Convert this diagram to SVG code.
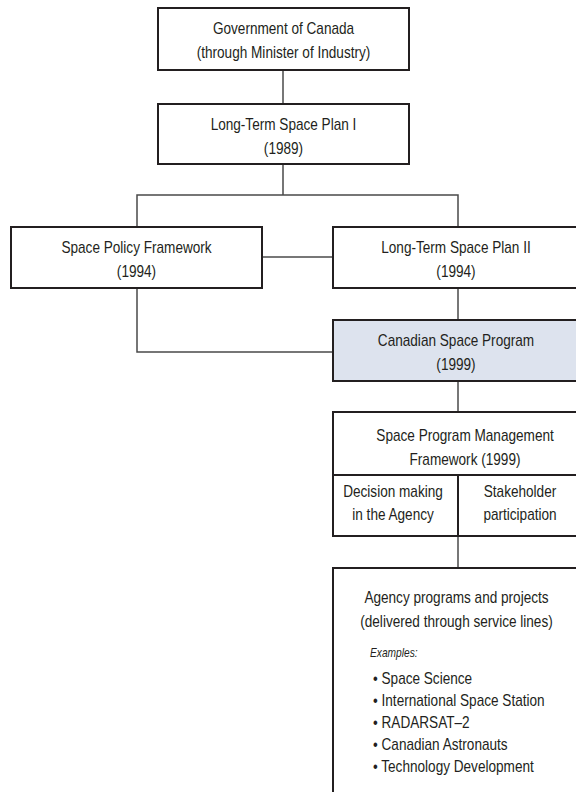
<svg xmlns="http://www.w3.org/2000/svg" width="576" height="792" viewBox="0 0 576 792">
<style>
  .box { fill: #ffffff; stroke: #231f20; stroke-width: 2; }
  .hl { fill: #dde3ee; }
  .conn { fill: none; stroke: #4a4a4a; stroke-width: 1.5; }
  text { font-family: "Liberation Sans", Arial, sans-serif; font-size: 16px; fill: #231f20;
         transform-box: fill-box; transform: scaleX(0.85); }
  .c { text-anchor: middle; transform-origin: center; }
  .l { text-anchor: start; transform-origin: left center; }
  .ex { font-size: 12px; font-style: italic; }
</style>
<rect width="576" height="792" fill="#ffffff"/>
<g id="connectors">
  <path class="conn" d="M283,70 V104"/>
  <path class="conn" d="M283,164 V195 M137,227 V195 H458 V227"/>
  <path class="conn" d="M262,257 H333"/>
  <path class="conn" d="M458,288 V320"/>
  <path class="conn" d="M137,288 V352 H333"/>
  <path class="conn" d="M458,381 V412"/>
  <path class="conn" d="M458,536 V568"/>
</g>
<g id="gov">
  <rect class="box" x="158" y="8" width="251" height="62"/>
  <text class="c" x="283.5" y="34">Government of Canada</text>
  <text class="c" x="283.5" y="58">(through Minister of Industry)</text>
</g>
<g id="ltsp1">
  <rect class="box" x="158" y="104" width="251" height="60"/>
  <text class="c" x="283.5" y="130">Long-Term Space Plan I</text>
  <text class="c" x="283.5" y="154">(1989)</text>
</g>
<g id="spf">
  <rect class="box" x="11" y="227" width="251" height="61"/>
  <text class="c" x="136.5" y="253">Space Policy Framework</text>
  <text class="c" x="136.5" y="277">(1994)</text>
</g>
<g id="ltsp2">
  <rect class="box" x="333" y="227" width="251" height="61"/>
  <text class="c" x="456" y="253">Long-Term Space Plan II</text>
  <text class="c" x="456" y="277">(1994)</text>
</g>
<g id="csp">
  <rect class="box hl" x="333" y="320" width="251" height="61"/>
  <text class="c" x="456" y="346">Canadian Space Program</text>
  <text class="c" x="456" y="370">(1999)</text>
</g>
<g id="spmf">
  <rect class="box" x="333" y="412" width="251" height="124"/>
  <path class="box" d="M333,475 H584 M458,475 V536"/>
  <text class="c" x="465" y="441">Space Program Management</text>
  <text class="c" x="465" y="465">Framework (1999)</text>
  <text class="c" x="393" y="497">Decision making</text>
  <text class="c" x="393" y="520">in the Agency</text>
  <text class="c" x="520" y="497">Stakeholder</text>
  <text class="c" x="520" y="520">participation</text>
</g>
<g id="agency">
  <rect class="box" x="333" y="568" width="260" height="240"/>
  <text class="c" x="456.5" y="603">Agency programs and projects</text>
  <text class="c" x="456.5" y="627">(delivered through service lines)</text>
  <text class="l ex" x="370" y="657">Examples:</text>
  <text class="l" x="373" y="684">• Space Science</text>
  <text class="l" x="373" y="706">• International Space Station</text>
  <text class="l" x="373" y="728">• RADARSAT–2</text>
  <text class="l" x="373" y="750">• Canadian Astronauts</text>
  <text class="l" x="373" y="772">• Technology Development</text>
</g>
</svg>
